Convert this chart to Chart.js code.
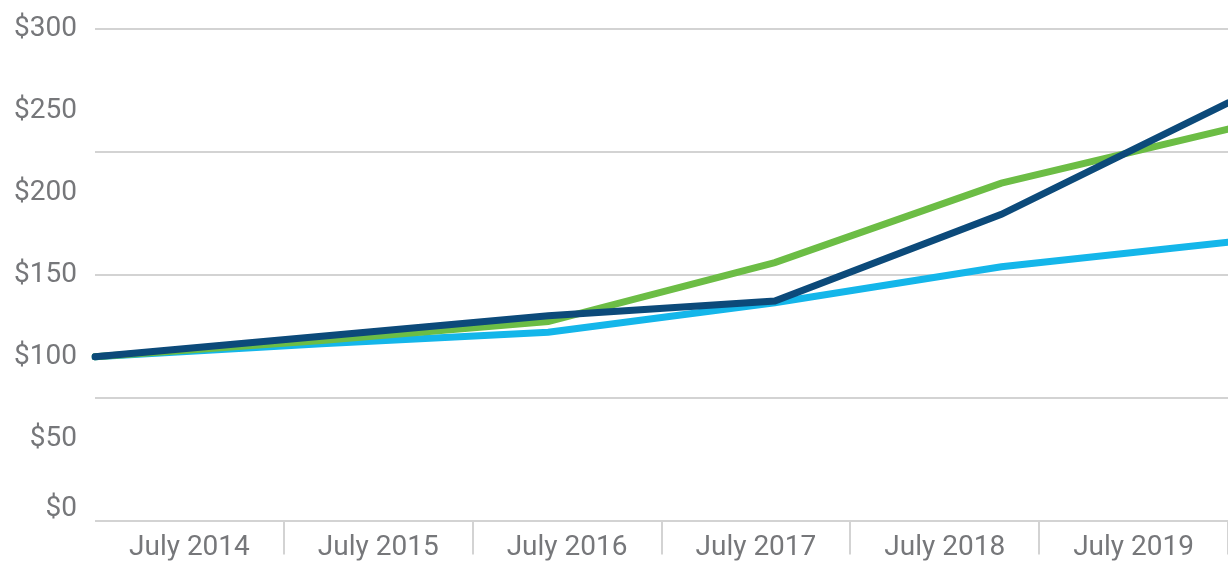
<!DOCTYPE html>
<html>
<head>
<meta charset="utf-8">
<script src="https://cdn.jsdelivr.net/npm/chart.js@4/dist/chart.umd.min.js"></script>
<style>
  body { margin: 0; background: #fff; }
</style>
</head>
<body>
<canvas id="chart" width="1228" height="561"></canvas>
<script>
// years of the data points and the labels under the axis
var years = ['2014', '2015', '2016', '2017', '2018', '2019'];
var yearLabels = ['July 2014', 'July 2015', 'July 2016', 'July 2017', 'July 2018', 'July 2019'];

// growth of $100
var navySeries = [100, 112.5, 125, 134, 187, 255];
var greenSeries = [100, 110, 121.5, 157.5, 206, 239];
var lightBlueSeries = [100, 108, 115, 133, 155, 170];

var yMin = 0;
var yMax = 300;
var yLabelStep = 50;
var yGridStep = 75;

var gridColor = '#d3d3d3';
var textColor = '#76777a';

function line(data, color) {
    return {
        data: data,
        borderColor: color,
        backgroundColor: color,
        borderWidth: 7,
        borderCapStyle: 'round',
        pointRadius: 0,
        fill: false,
        tension: 0
    };
}

new Chart(document.getElementById('chart'), {
    type: 'line',
    data: {
        labels: years,
        datasets: [
            line(navySeries, '#0c4a7a'),
            line(greenSeries, '#6cbd45'),
            line(lightBlueSeries, '#14b6ea')
        ]
    },
    options: {
        responsive: false,
        animation: false,
        layout: { padding: { top: 27, right: 0, left: 0, bottom: 0 } },
        plugins: { legend: { display: false }, tooltip: { enabled: false } },
        scales: {
            x: {
                type: 'category',
                offset: false,
                display: false
            },
            x2: {
                type: 'category',
                labels: yearLabels,
                position: 'bottom',
                offset: true,
                border: { display: false },
                grid: {
                    offset: true,
                    drawOnChartArea: false,
                    tickLength: 34,
                    lineWidth: 2,
                    color: function(ctx) { return ctx.index === 0 ? 'rgba(0,0,0,0)' : gridColor; }
                },
                ticks: {
                    color: textColor,
                    font: { family: 'Roboto', size: 28 },
                    padding: -23,
                    maxRotation: 0,
                    autoSkip: false
                },
                afterFit: function(scale) { scale.height = 40; }
            },
            y: {
                min: yMin,
                max: yMax,
                border: { display: false },
                grid: {
                    drawTicks: false,
                    lineWidth: 2,
                    color: function(ctx) {
                        return ctx.tick && ctx.tick.value % yGridStep === 0 ? gridColor : 'rgba(0,0,0,0)';
                    }
                },
                ticks: {
                    stepSize: 25,
                    maxTicksLimit: 20,
                    autoSkip: false,
                    color: textColor,
                    padding: 18,
                    font: { family: 'Roboto', size: 28, lineHeight: 0.8 },
                    callback: function(value) {
                        if (value % yLabelStep !== 0) return '';
                        // the $0 label sits a little above the axis line
                        return value === 0 ? ['$0', ''] : '$' + value;
                    }
                },
                afterFit: function(scale) { scale.width = 95; }
            }
        }
    }
});
</script>
</body>
</html>
